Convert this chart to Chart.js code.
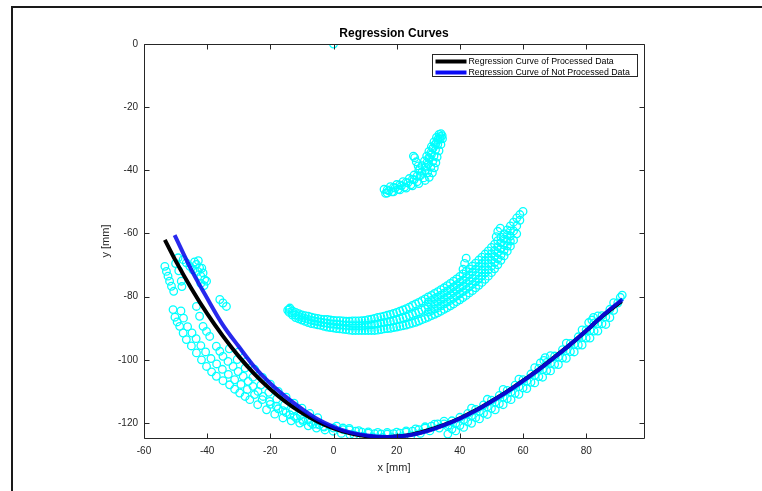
<!DOCTYPE html>
<html>
<head>
<meta charset="utf-8">
<script src="https://cdn.jsdelivr.net/npm/chart.js@4.4.0/dist/chart.umd.min.js"></script>
<style>
  html, body { margin: 0; padding: 0; background: #fff; }
  #wrap { position: relative; width: 762px; height: 491px; }
</style>
</head>
<body>
<div id="wrap"><canvas id="myChart"></canvas></div>
<script>
// titles and ticks
const chartTitle = 'Regression Curves';
const xTicks = [-60, -40, -20, 0, 20, 40, 60, 80];
const yTicks = [-120, -100, -80, -60, -40, -20, 0];

// regression curves
const processedX = [-53.4, -50, -45, -40, -35, -30, -25, -20, -15, -10, -5, 0, 5, 10, 16, 20, 25, 30, 35, 40, 45, 50, 55, 60, 65, 70, 75, 80, 85, 91.2];
const processedY = [-62, -68.6, -77.4, -85.4, -92.5, -98.9, -104.5, -109.3, -113.4, -116.8, -119.6, -121.7, -123.2, -124.1, -124.5, -124.3, -123.6, -122.3, -120.6, -118.5, -116.0, -113.1, -110.0, -106.6, -103.0, -99.1, -95.1, -90.8, -86.3, -81.4];

const notProcessedX = [-50.3, -45, -40, -35, -30, -25, -20, -15, -10, -5, 0, 5, 10, 17, 20, 25, 30, 35, 40, 45, 50, 55, 60, 65, 70, 75, 80, 85, 91.5];
const notProcessedY = [-60.5, -71.5, -80.5, -89, -95.8, -102.3, -107.5, -111.8, -115.5, -118.8, -121.2, -122.9, -123.9, -124.4, -124.3, -123.7, -122.5, -120.7, -118.6, -116.1, -113.2, -110.1, -106.7, -103.1, -99.2, -95.1, -90.8, -86.2, -80.8];

// measured points
const originPt = [[0, 0]];

const topCluster = [
  [16,-46],[18,-45.2],[20,-44.5],[22,-43.6],[24,-42.6],[25.5,-41.5],[27,-40],[28,-38.5],[28.8,-37],[29.5,-35.5],[30.2,-34],[31,-32.5],[31.8,-31],[32.6,-29.6],[33.4,-28.6],
  [16.5,-47.3],[18.5,-46.8],[20.5,-46],[22.5,-45.3],[24.5,-44.6],[26.5,-43.6],[28.5,-42.4],[29.8,-40.8],[30.8,-39],[31.4,-37.2],[31.8,-35.5],[32.3,-33.5],[33,-31.8],[33.8,-30],[34.4,-29],
  [17.5,-46.5],[19.5,-45.6],[21.5,-44.9],[23.5,-44],[25.5,-43],[27.5,-41.7],[29,-40],[30,-38],[30.3,-36.3],[31,-35],[31.5,-33],[32.4,-31.5],[33.2,-30],
  [17,-46.2],[19,-45.4],[21,-44.6],[23,-43.8],[25,-42.8],[26.5,-41.8],[28,-40.6],[29.2,-39],[29.6,-37.5],[30.2,-36],[30.8,-34.5],[31.5,-33],[32.2,-31.8],[33,-30.4],[33.8,-29.3],[34,-28.4],
  [17,-47.2],[19,-46.8],[21,-46.2],[23,-45.6],[25,-44.9],[27,-44.2],[29,-43.2],[30.3,-42.2],[31.3,-40.8],[31.9,-39.2],[32.4,-37.6],[32.8,-35.8],[33.4,-33.8],[34,-31.8],[34.5,-30],
  [25.7,-36],[26.2,-37.3],[26.8,-38.6],[27.3,-39.5],[25.3,-35.5]
];

const middleArc = [
  // upper edge
  [-14,-84.0],[-12,-85.0],[-10,-85.8],[-8,-86.2],[-6,-86.7],[-4,-87.1],[-2,-87.2],[0,-87.5],[2,-87.6],[4,-87.8],[6,-87.7],[8,-87.7],[10,-87.5],[12,-87.1],[14,-86.6],[16,-86.2],[18,-85.6],[20,-85.0],[22,-84.2],[24,-83.3],[26,-82.3],[28,-81.3],[30,-80.1],[32,-79.0],[34,-77.8],[36,-76.5],[38,-75.1],[40,-73.6],[42,-72.0],[44,-70.3],[46,-68.4],[48,-66.5],[50,-64.4],[52,-62.3],[54,-60.1],[56,-57.6],[58,-55.1],[60,-53.0],
  [-13,-84.5],[-11,-85.4],[-9,-86.0],[-7,-86.5],[-5,-86.9],[-3,-87.2],[-1,-87.4],[1,-87.6],[3,-87.7],[5,-87.8],[7,-87.7],[9,-87.6],[11,-87.3],[13,-86.9],[15,-86.4],[17,-85.9],[19,-85.3],[21,-84.6],[23,-83.8],[25,-82.8],[27,-81.8],[29,-80.7],[31,-79.6],[33,-78.4],[35,-77.2],[37,-75.8],[39,-74.4],[41,-72.8],[43,-71.2],[45,-69.4],[47,-67.5],[49,-65.5],[51,-63.4],[53,-61.2],[55,-58.9],[57,-56.4],[59,-54.0],
  // lower edge
  [-14,-85.0],[-12,-86.6],[-10,-87.4],[-8,-88.2],[-6,-88.7],[-4,-89.1],[-2,-89.6],[0,-89.9],[2,-90.2],[4,-90.4],[6,-90.7],[8,-90.7],[10,-90.7],[12,-90.7],[14,-90.6],[16,-90.2],[18,-90.0],[20,-89.6],[22,-89.2],[24,-88.7],[26,-88.1],[28,-87.3],[30,-86.5],[32,-85.6],[34,-84.6],[36,-83.5],[38,-82.3],[40,-81.0],[42,-79.6],[44,-78.1],[46,-76.4],[48,-74.5],[50,-72.4],[52,-69.9],[54,-67.1],[56,-64.0],[58,-60.1],
  [-13,-85.8],[-11,-87.0],[-9,-87.8],[-7,-88.5],[-5,-88.9],[-3,-89.4],[-1,-89.8],[1,-90.1],[3,-90.3],[5,-90.6],[7,-90.7],[9,-90.7],[11,-90.7],[13,-90.7],[15,-90.4],[17,-90.1],[19,-89.8],[21,-89.4],[23,-89.0],[25,-88.4],[27,-87.7],[29,-86.9],[31,-86.0],[33,-85.1],[35,-84.0],[37,-82.9],[39,-81.6],[41,-80.3],[43,-78.8],[45,-77.2],[47,-75.5],[49,-73.5],[51,-71.2],[53,-68.5],[55,-65.6],[57,-62.1],
  // centre
  [-13,-85.2],[-11,-86.2],[-9,-86.9],[-7,-87.5],[-5,-87.9],[-3,-88.3],[-1,-88.6],[1,-88.8],[3,-89.0],[5,-89.2],[7,-89.2],[9,-89.2],[11,-89.0],[13,-88.8],[15,-88.4],[17,-88.0],[19,-87.6],[21,-87.0],[23,-86.4],[25,-85.6],[27,-84.8],[29,-83.8],[31,-82.8],[33,-81.8],[35,-80.6],[37,-79.4],[39,-78.0],[41,-76.6],[43,-75.0],[45,-73.3],[47,-71.5],[49,-69.5],[51,-67.3],[53,-64.9],[55,-62.2],[57,-59.2],[59,-55.8],
  [-12,-85.8],[-10,-86.6],[-8,-87.2],[-6,-87.7],[-4,-88.1],[-2,-88.4],[0,-88.7],[2,-88.9],[4,-89.1],[6,-89.2],[8,-89.2],[10,-89.1],[12,-88.9],[14,-88.6],[16,-88.2],[18,-87.8],[20,-87.3],[22,-86.7],[24,-86.0],[26,-85.2],[28,-84.3],[30,-83.3],[32,-82.3],[34,-81.2],[36,-80.0],[38,-78.7],[40,-77.3],[42,-75.8],[44,-74.2],[46,-72.4],[48,-70.5],[50,-68.4],[52,-66.1],[54,-63.6],[56,-60.8],[58,-57.6],
  // inner rows of the wide part
  [31,-81.2],[33,-80.1],[35,-78.9],[37,-77.6],[39,-76.2],[41,-74.8],[43,-73.1],[45,-71.3],[47,-69.5],[49,-67.5],[51,-65.4],[53,-63.0],[55,-60.5],
  [31,-84.4],[33,-83.5],[35,-82.3],[37,-81.2],[39,-79.8],[41,-78.4],[43,-76.9],[45,-75.3],[47,-73.5],[49,-71.5],[51,-69.2],[53,-66.8],[55,-63.9],
  [30,-81.7],[32,-80.6],[34,-79.5],[36,-78.2],[38,-76.9],[40,-75.4],[42,-73.9],[44,-72.2],[46,-70.4],[48,-68.5],[50,-66.4],[52,-64.2],[54,-61.8],[56,-59.2],
  [30,-84.9],[32,-83.9],[34,-82.9],[36,-81.7],[38,-80.5],[40,-79.1],[42,-77.7],[44,-76.1],[46,-74.4],[48,-72.5],[50,-70.4],[52,-68.0],[54,-65.3],[56,-62.4],
  // spurs
  [-14.5,-84.3],[-13.8,-83.6],[42,-67.8],[41.5,-69.5],[41,-71.3],[52,-59.3],[51.5,-61],[52.8,-58.3]
];

const lowerArcLeft = [
  [-53.4,-70.4],[-52.9,-72],[-52.4,-73.5],[-51.9,-75.1],[-51.3,-76.7],[-50.6,-78.3],[-48.2,-75.1],[-48,-76.8],
  [-49.2,-67.7],[-47.6,-68.3],[-46.6,-69.3],[-45.5,-70.4],[-43.4,-69.8],[-42.4,-70.9],[-41.3,-72.5],[-40.8,-74.6],[-40.2,-75.1],[-44.5,-71.5],[-43,-72],[-42,-73.5],[-41.7,-71],[-44,-69],[-42.8,-68.6],[-41,-76.5],[-42,-75.8],[-50,-69.5],[-49,-71.8],
  [-36,-80.9],[-35,-82],[-33.9,-83.1],
  [-50.8,-84.1],[-50.2,-86.5],[-49.5,-88],[-48.7,-89.4],[-47.6,-91.5],[-46.6,-93.6],[-45,-95.6],[-43.4,-97.8],[-41.8,-100],[-40.2,-102.1],[-38.6,-103.8],[-37.1,-105.2],[-35,-106.6],[-32.9,-107.9],[-31.3,-109.3],[-29.7,-110.5],[-28,-111.6],[-26.5,-112.6],[-24,-114.2],[-21.2,-115.8],[-18.6,-117.2],[-16,-118.4],[-13.4,-119.3],[-10.7,-120],[-8,-120.9],[-5.4,-121.6],[-2.7,-122.2],[-0.1,-122.6],[2.5,-123.3],[5.2,-123.7],
  [-48.3,-84.5],[-47.5,-86.8],[-46.2,-89.5],[-44.8,-91.5],[-43.5,-93.3],[-42,-95.5],[-40.5,-97.5],[-38.8,-99.6],[-37,-101.3],[-35.2,-103],[-33.3,-104.6],[-31.3,-106.3],[-29.3,-107.8],[-27.3,-109.4],[-25,-111],[-22.6,-112.6],[-20,-114.1],[-17.5,-115.5],[-15,-116.7],[-12.4,-117.9],[-9.8,-118.9],[-7.2,-119.8],[-4.5,-120.6],
  [-43.4,-83.1],[-42.4,-86.2],[-41.3,-89.4],[-40.2,-91],[-39.2,-92.6],[-37.1,-95.7],[-36,-97.3],[-35,-98.9],[-33.4,-100.5],[-31.8,-102.1],[-30.2,-103.7],[-28.6,-105.2],[-27,-106.8],[-25.5,-108.4],[-23.9,-110],[-22.3,-111.6],[-20.2,-113.2],[-18.1,-114.7],[-16,-116.1],[-13.8,-117.4],[-11.7,-118.5],[-9.6,-119.5],[-6.5,-120.4],[-3.3,-121.1],[0,-121.6],[3,-122.1],
  [-33,-96.5],[-30.5,-99.9],[-28,-102.6],[-25.5,-105.5],[-23,-108],[-20.5,-110.3],[-18,-112.4],[-15.5,-114.3],[-13,-116],[-10.5,-117.6],[-8,-119],[-5.5,-120.3],[-3,-121.3],
  [-30,-97.5],[-27.5,-100.5],[-25,-103],[-22.5,-105.6],[-20,-107.7],[-17.5,-110],[-15,-111.8],[-12.5,-113.7],[-10,-115.3],[-7.5,-117],[-5,-118.3]
];

const lowerArcRight = [
  [5,-121.7],[8,-122.4],[11,-122.8],[14,-123.0],[17,-123.0],[20,-122.9],[23,-122.5],[26,-121.9],[29,-121.2],[32,-120.4],[35,-119.4],
  [1,-121.0],[3,-121.6],[5,-122.2],[7,-122.6],[9,-122.9],[11,-123.2],[13,-123.4],[15,-123.5],[17,-123.5],[19,-123.4],[21,-123.2],[23,-122.9],[25,-122.6],[27,-122.1],[29,-121.6],[31,-121.0],[33,-120.3],
  [6.5,-123.8],[9.5,-124.2],[12.5,-124.5],[15.5,-124.6],[18.5,-124.6],[21.5,-124.4],[24.5,-124.0],[27.5,-123.3],[30.5,-122.5],[33.5,-121.6],[36.5,-120.6],
  [35,-120.3],[37.5,-119.3],[40,-118.2],[42.5,-117.0],[45,-115.7],[47.5,-114.3],[50,-112.8],[52.5,-111.3],[55,-109.7],[57.5,-108.0],[60,-106.3],[62.5,-104.5],[65,-102.7],[67.5,-100.8],[70,-98.8],[72.5,-96.8],[75,-94.8],[77.5,-92.7],[80,-90.5],[82.5,-88.3],[85,-86.0],[87.5,-84.0],[90,-82.0],
  [36.2,-121.1],[38.7,-120.1],[41.2,-119.0],[43.7,-117.7],[46.2,-116.3],[48.7,-114.9],[51.2,-113.4],[53.7,-111.8],[56.2,-110.2],[58.7,-108.5],[61.2,-106.7],[63.7,-104.9],[66.2,-103.1],[68.7,-101.1],[71.2,-99.1],[73.7,-97.1],[76.2,-95.1],[78.7,-92.9],[81.2,-90.7],[83.7,-88.5],[86.2,-86.4],[88.7,-84.3],
  [37.5,-121.9],[40,-120.8],[42.5,-119.6],[45,-118.3],[47.5,-116.9],[50,-115.4],[52.5,-113.9],[55,-112.3],[57.5,-110.6],[60,-108.9],[62.5,-107.1],[65,-105.3],[67.5,-103.4],[70,-101.4],[72.5,-99.4],[75,-97.4],[77.5,-95.3],[80,-93.1],[82.5,-90.9],[85,-88.6],[87.5,-86.6],
  [36.2,-123.5],[38.7,-122.5],[41.2,-121.4],[43.7,-120.1],[46.2,-118.7],[48.7,-117.3],[51.2,-115.8],[53.7,-114.2],[56.2,-112.6],[58.7,-110.9],[61.2,-109.1],[63.7,-107.3],[66.2,-105.5],[68.7,-103.5],[71.2,-101.5],[73.7,-99.5],[76.2,-97.5],[78.7,-95.3],[81.2,-93.1],[83.7,-90.9],[86.2,-88.8],
  [43.7,-115.3],[48.7,-112.5],[53.7,-109.4],[58.7,-106.1],[63.7,-102.5],[68.7,-98.7],[73.7,-94.7],[78.7,-90.5],[83.7,-86.1],[88.7,-81.9],
  [66.6,-100.2],[65.5,-101],[67,-99.3],[81.8,-87.4],[80.8,-88.2],[82.3,-86.6],[91.4,-79.5],[90.8,-80.2]
];

function toXY(list) {
  return list.map(p => ({ x: p[0], y: p[1] }));
}

var points = toXY(originPt.concat(topCluster, middleArc, lowerArcLeft, lowerArcRight));
var curve1 = processedX.map((v, i) => ({ x: v, y: processedY[i] }));
var curve2 = notProcessedX.map((v, i) => ({ x: v, y: notProcessedY[i] }));

const axisColor = '#262626';
const fontFam = '"Liberation Sans", Arial, Helvetica, sans-serif';

// box with inward ticks, title, legend, outer frame
const matlabLook = {
  id: 'matlabLook',
  afterDatasetsDraw(chart) {
    const ctx = chart.ctx;
    const ca = chart.chartArea;
    const xs = chart.scales.x, ys = chart.scales.y;
    const L = Math.round(ca.left) + 0.5, R = Math.round(ca.right) + 0.5;
    const T = Math.round(ca.top) + 0.5, B = Math.round(ca.bottom) + 0.5;
    ctx.save();
    ctx.strokeStyle = axisColor;
    ctx.lineWidth = 1;
    ctx.beginPath();
    ctx.rect(L, T, R - L, B - T);
    xTicks.forEach(v => {
      const px = Math.round(xs.getPixelForValue(v)) + 0.5;
      ctx.moveTo(px, B); ctx.lineTo(px, B - 5);
      ctx.moveTo(px, T); ctx.lineTo(px, T + 5);
    });
    yTicks.forEach(v => {
      const py = Math.round(ys.getPixelForValue(v)) + 0.5;
      ctx.moveTo(L, py); ctx.lineTo(L + 5, py);
      ctx.moveTo(R, py); ctx.lineTo(R - 5, py);
    });
    ctx.stroke();

    // title
    ctx.fillStyle = '#000';
    ctx.font = 'bold 12px ' + fontFam;
    ctx.textAlign = 'center';
    ctx.textBaseline = 'middle';
    ctx.fillText(chartTitle, (ca.left + ca.right) / 2, 34);

    // legend
    const items = chart.data.datasets.filter(d => d.inLegend);
    const bx = 432.5, by = 54.5, bw = 205, bh = 22;
    ctx.fillStyle = '#fff';
    ctx.fillRect(bx, by, bw, bh);
    ctx.strokeStyle = '#262626';
    ctx.lineWidth = 1;
    ctx.strokeRect(bx, by, bw, bh);
    ctx.font = '8.8px ' + fontFam;
    ctx.textAlign = 'left';
    items.forEach((d, i) => {
      const y = by + 7 + i * 11;
      ctx.strokeStyle = d.legendColor;
      ctx.lineWidth = 4;
      ctx.beginPath();
      ctx.moveTo(bx + 3, y); ctx.lineTo(bx + 34, y);
      ctx.stroke();
      ctx.fillStyle = '#000';
      ctx.fillText(d.label, bx + 36, y + 0.5);
    });

    // outer frame of the figure
    ctx.strokeStyle = '#1a1a1a';
    ctx.lineWidth = 2;
    ctx.beginPath();
    ctx.moveTo(12, 491); ctx.lineTo(12, 7); ctx.lineTo(762, 7);
    ctx.stroke();
    ctx.restore();
  }
};

var ctx = document.getElementById('myChart').getContext('2d');
var myChart = new Chart(ctx, {
  type: 'scatter',
  data: {
    datasets: [{
      label: 'Data',
      data: points,
      showLine: false,
      pointRadius: 3.8,
      pointBorderWidth: 1.3,
      pointBorderColor: 'rgb(0,255,255)',
      pointBackgroundColor: 'rgba(0,0,0,0)',
      order: 3
    }, {
      label: 'Regression Curve of Processed Data',
      data: curve1,
      showLine: true,
      borderColor: '#000',
      borderWidth: 4,
      pointRadius: 0,
      cubicInterpolationMode: 'monotone',
      inLegend: true,
      legendColor: '#000',
      order: 2
    }, {
      label: 'Regression Curve of Not Processed Data',
      data: curve2,
      showLine: true,
      borderColor: 'rgba(10,10,235,0.88)',
      borderWidth: 4,
      pointRadius: 0,
      cubicInterpolationMode: 'monotone',
      inLegend: true,
      legendColor: '#0a0af5',
      order: 1
    }]
  },
  options: {
    responsive: true,
    maintainAspectRatio: false,
    animation: false,
    devicePixelRatio: 1,
    layout: { padding: { left: 0, right: 118, top: 44, bottom: 0 } },
    plugins: {
      legend: { display: false },
      tooltip: { enabled: false },
      title: { display: false }
    },
    scales: {
      x: {
        type: 'linear',
        min: -60,
        max: 98.3,
        grid: { display: false, drawTicks: false },
        border: { display: false },
        ticks: { color: axisColor, font: { family: fontFam, size: 10 }, padding: 7, maxRotation: 0, autoSkip: false },
        afterBuildTicks: s => { s.ticks = xTicks.map(v => ({ value: v })); },
        afterFit: s => { s.height = 53; },
        title: { display: true, text: 'x [mm]', color: axisColor, font: { family: fontFam, size: 11 }, padding: { top: 0, bottom: 16 } }
      },
      y: {
        type: 'linear',
        min: -124.75,
        max: 0,
        grid: { display: false, drawTicks: false },
        border: { display: false },
        ticks: { color: axisColor, font: { family: fontFam, size: 10 }, padding: 6, autoSkip: false },
        afterBuildTicks: s => { s.ticks = yTicks.map(v => ({ value: v })); },
        afterFit: s => { s.width = 144; },
        title: { display: true, text: 'y [mm]', color: axisColor, font: { family: fontFam, size: 11 }, padding: { top: 99, bottom: 0 } }
      }
    }
  },
  plugins: [matlabLook]
});
</script>
</body>
</html>
